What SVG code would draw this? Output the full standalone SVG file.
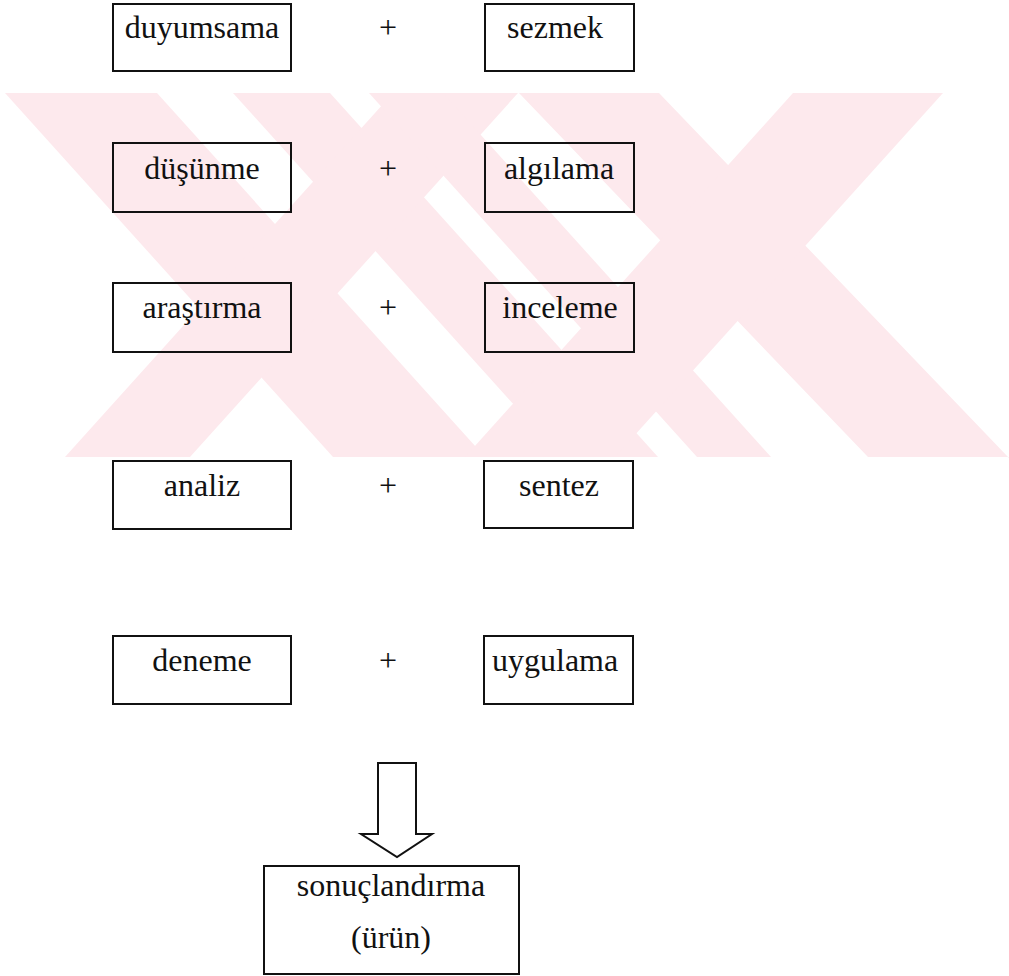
<svg xmlns="http://www.w3.org/2000/svg" width="1009" height="976" viewBox="0 0 1009 976">
  <style>
    .box { fill: none; stroke: #111; stroke-width: 2; }
    .lbl { font-family: "Liberation Serif", "Times New Roman", serif; font-size: 32px; fill: #111; }
    .c { text-anchor: middle; }
    .wm { fill: #fde9ed; stroke: none; }
    .arrow { fill: #fff; stroke: #111; stroke-width: 2; stroke-linejoin: miter; }
  </style>
  <rect width="1009" height="976" fill="#fff"/>
  <g id="watermark">
    <polygon class="wm" points="5,93 157,93 485,457 333,457"/>
    <polygon class="wm" points="233,93 330,93 658,457 561,457"/>
    <polygon class="wm" points="393,93 518,93 190,457 65,457"/>
    <polygon class="wm" points="369,93 443,93 771,457 697,457"/>
    <polygon class="wm" points="519,93 659,93 1009,458 1009,457 868,457"/>
    <polygon class="wm" points="793,93 943,93 615,457 465,457"/>
  </g>
  <g id="n-duyumsama"><rect class="box" x="113" y="4" width="178" height="67"/><text class="lbl c" x="202" y="38">duyumsama</text></g>
  <g id="plus-1"><text class="lbl c" x="388" y="38">+</text></g>
  <g id="n-sezmek"><rect class="box" x="485" y="4" width="149" height="67"/><text class="lbl c" x="555" y="38">sezmek</text></g>

  <g id="n-dusunme"><rect class="box" x="113" y="143" width="178" height="69"/><text class="lbl c" x="202" y="179">düşünme</text></g>
  <g id="plus-2"><text class="lbl c" x="388" y="179">+</text></g>
  <g id="n-algilama"><rect class="box" x="485" y="143" width="149" height="69"/><text class="lbl c" x="559" y="179">algılama</text></g>

  <g id="n-arastirma"><rect class="box" x="113" y="283" width="178" height="69"/><text class="lbl c" x="202" y="318">araştırma</text></g>
  <g id="plus-3"><text class="lbl c" x="388" y="318">+</text></g>
  <g id="n-inceleme"><rect class="box" x="485" y="283" width="149" height="69"/><text class="lbl c" x="560" y="318">inceleme</text></g>

  <g id="n-analiz"><rect class="box" x="113" y="461" width="178" height="68"/><text class="lbl c" x="202" y="496">analiz</text></g>
  <g id="plus-4"><text class="lbl c" x="388" y="496">+</text></g>
  <g id="n-sentez"><rect class="box" x="484" y="461" width="149" height="67"/><text class="lbl c" x="559" y="496">sentez</text></g>

  <g id="n-deneme"><rect class="box" x="113" y="636" width="178" height="68"/><text class="lbl c" x="202" y="671">deneme</text></g>
  <g id="plus-5"><text class="lbl c" x="388" y="671">+</text></g>
  <g id="n-uygulama"><rect class="box" x="484" y="636" width="149" height="68"/><text class="lbl" x="492" y="671">uygulama</text></g>

  <g id="connectors">
    <polygon class="arrow" points="378,763 416,763 416,834 432,834 397,857 361,834 378,834"/>
  </g>
  <g id="n-sonuclandirma"><rect class="box" x="264" y="866" width="255" height="108"/><text class="lbl c" x="391" y="896">sonuçlandırma</text><text class="lbl c" x="391" y="948">(ürün)</text></g>
</svg>
